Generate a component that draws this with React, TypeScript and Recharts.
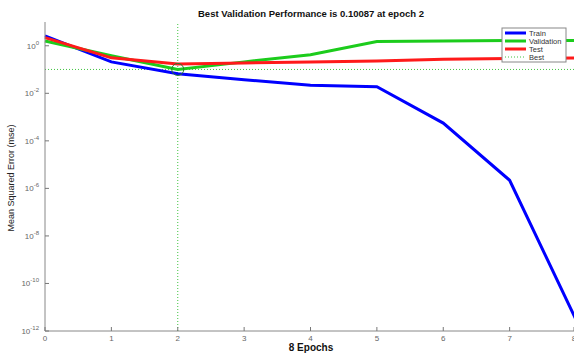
import React from 'react';
import { LineChart, Line, XAxis, YAxis, ReferenceLine, ReferenceDot, Customized } from 'recharts';

const epochs = [0, 1, 2, 3, 4, 5, 6, 7, 8];
const train = [2.6, 0.21, 0.066, 0.037, 0.022, 0.019, 5.6e-4, 2.2e-6, 3e-12];
const validation = [1.6, 0.38, 0.10087, 0.21, 0.42, 1.5, 1.6, 1.65, 1.65];
const test = [2.2, 0.31, 0.17, 0.19, 0.21, 0.23, 0.27, 0.29, 0.31];

const bestEpoch = 2;
const bestValue = 0.10087;
const xTicks = [0, 1, 2, 3, 4, 5, 6, 7, 8];
const yTicks = [1e-12, 1e-10, 1e-8, 1e-6, 1e-4, 1e-2, 1];

const data = epochs.map((e, i) => ({
  epoch: e,
  train: train[i],
  validation: validation[i],
  test: test[i],
}));

const bestColor = '#3fc43f';

const legendItems = [
  { name: 'Train', color: '#0000ff', dash: undefined, width: 3 },
  { name: 'Validation', color: '#1ccc1c', dash: undefined, width: 3 },
  { name: 'Test', color: '#ff1a1a', dash: undefined, width: 3 },
  { name: 'Best', color: bestColor, dash: '1 2', width: 1 },
];

const font = 'Liberation Sans, Arial, sans-serif';

const YTick = (props: any) => {
  const { x, y, payload } = props;
  const exp = Math.round(Math.log10(payload.value));
  return (
    <g>
      <line x1={x} x2={x + 4} y1={y} y2={y} stroke="#777" />
      <text x={x - 6} y={y + 3} textAnchor="end" fontSize={8} fill="#666" fontFamily={font}>
        10<tspan dy={-4} fontSize={6}>{exp}</tspan>
      </text>
    </g>
  );
};

const XTick = (props: any) => {
  const { x, y, payload } = props;
  return (
    <g>
      <line x1={x} x2={x} y1={y} y2={y - 4} stroke="#777" />
      <text x={x} y={y + 10} textAnchor="middle" fontSize={8} fill="#666" fontFamily={font}>
        {payload.value}
      </text>
    </g>
  );
};

const Texts = () => (
  <g fontFamily={font}>
    <text x={311} y={17} textAnchor="middle" fontSize={9.5} fontWeight="bold" fill="#111">
      Best Validation Performance is 0.10087 at epoch 2
    </text>
    <text x={311} y={351} textAnchor="middle" fontSize={10} fontWeight="bold" fill="#111">
      8 Epochs
    </text>
    <text x={14} y={178} textAnchor="middle" fontSize={9} fill="#222" transform="rotate(-90 14 178)">
      Mean Squared Error (mse)
    </text>
  </g>
);

const LegendBox = () => (
  <svg width={66} height={36} style={{ position: 'absolute', left: 501, top: 27 }}>
    <rect x={1} y={1} width={64} height={34} fill="#fff" stroke="#888" />
    {legendItems.map((it, i) => (
      <g key={it.name}>
        <line x1={4} x2={25} y1={6 + i * 8} y2={6 + i * 8} stroke={it.color} strokeWidth={it.width} strokeDasharray={it.dash} />
        <text x={28} y={9 + i * 8} fontSize={7.5} fill="#333" fontFamily={font}>{it.name}</text>
      </g>
    ))}
  </svg>
);

export default function App() {
  return (
    <div style={{ position: 'absolute', left: 0, top: 0, width: 574, height: 356, overflow: 'hidden', background: '#fff' }}>
      <LineChart width={578} height={356} data={data} margin={{ top: 22, right: 2, left: 0, bottom: 0 }}>
        <XAxis
          dataKey="epoch"
          type="number"
          domain={[0, 8]}
          ticks={xTicks}
          tickSize={0}
          tickMargin={0}
          tick={<XTick />}
          stroke="#888"
          height={25}
        />
        <YAxis
          scale="log"
          domain={[1e-12, 10]}
          ticks={yTicks}
          allowDataOverflow
          tickSize={0}
          tickMargin={0}
          tick={<YTick />}
          stroke="#888"
          width={45}
        />
        <ReferenceLine x={bestEpoch} stroke={bestColor} strokeDasharray="1 2" />
        <ReferenceLine y={bestValue} stroke={bestColor} strokeDasharray="1 2" />
        <Line type="linear" dataKey="train" stroke="#0000ff" strokeWidth={3} dot={false} isAnimationActive={false} />
        <Line type="linear" dataKey="validation" stroke="#1ccc1c" strokeWidth={3} dot={false} isAnimationActive={false} />
        <Line type="linear" dataKey="test" stroke="#ff1a1a" strokeWidth={3} dot={false} isAnimationActive={false} />
        <ReferenceDot x={bestEpoch} y={bestValue} r={6} fill="none" stroke="#2a7a2a" strokeWidth={1} />
        <Customized component={Texts} />
      </LineChart>
      <LegendBox />
    </div>
  );
}
